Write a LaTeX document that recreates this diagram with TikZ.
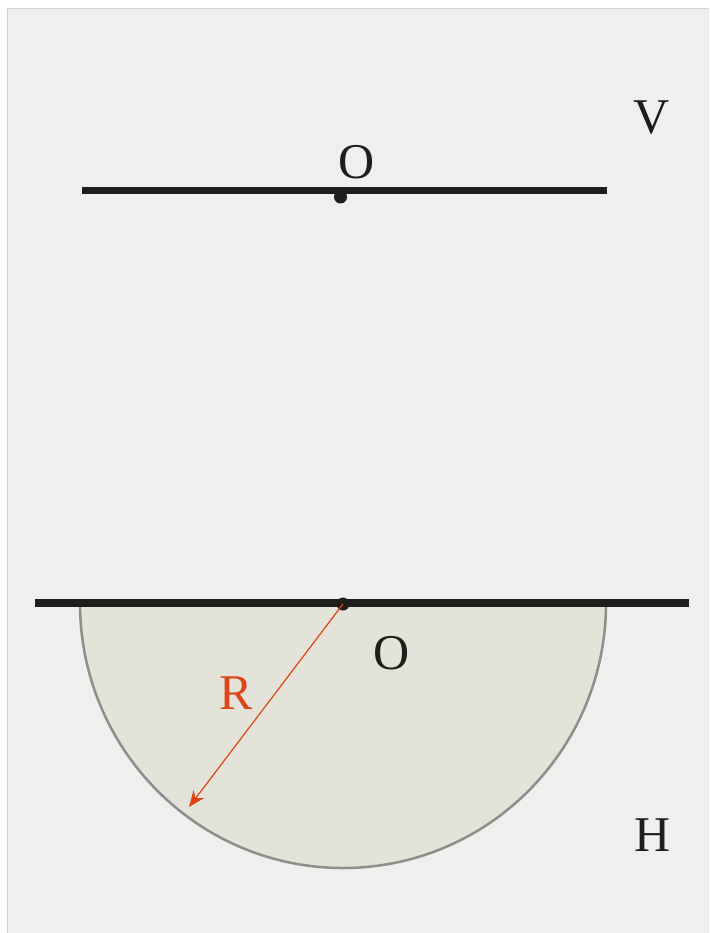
\documentclass[tikz,border=0pt]{standalone}
\usepackage{fontspec}
\setmainfont{Liberation Serif}
\usetikzlibrary{arrows.meta}
\definecolor{bg}{HTML}{EFEFED}
\definecolor{edge}{HTML}{D4D4D2}
\definecolor{halffill}{HTML}{E4E3D9}
\definecolor{halfdraw}{HTML}{8E8E8C}
\definecolor{ink}{HTML}{1E1E1C}
\definecolor{rcol}{HTML}{DD4416}
\tikzset{
  lbl/.style={inner sep=0pt, font=\fontsize{50}{50}\selectfont, text=ink},
  axisline/.style={draw=ink, line width=7.5pt},
  dotmark/.style={circle, fill=ink, inner sep=0pt, minimum size=13pt},
}
\begin{document}
\begin{tikzpicture}[x=1pt,y=-1pt]
\useasboundingbox (0,0) rectangle (709,933);
\fill[white] (0,0) rectangle (709,933);
\fill[bg] (7,8) rectangle (709,933);
\draw[edge, line width=1.2pt] (7.5,933) -- (7.5,8.5) -- (709,8.5);
% half disc
\filldraw[fill=halffill, draw=halfdraw, line width=2.5pt] (80,603) arc[start angle=180, end angle=360, x radius=263, y radius=-265];
% lines
\coordinate (t1) at (82,190.5);
\coordinate (t2) at (607,190.5);
\coordinate (b1) at (35,603);
\coordinate (b2) at (689,603);
\draw[axisline] (t1) -- (t2);
\draw[axisline] (b1) -- (b2);
\node[dotmark] (o1) at (340.5,197) {};
\node[dotmark] (o2) at (343,604) {};
\coordinate (rend) at (189,807);
\draw[rcol, line width=1.2pt, -{Stealth[length=16pt,width=13pt,inset=5pt]}] (o2.center) -- (rend);
\node[lbl] (lo1) at (357,162) {O};
\node[lbl] (lo2) at (392,653) {O};
\node[lbl] (lv) at (652,118) {V};
\node[lbl] (lh) at (653,835) {H};
\node[lbl, text=rcol] (lr) at (236,693) {R};
\end{tikzpicture}
\end{document}
